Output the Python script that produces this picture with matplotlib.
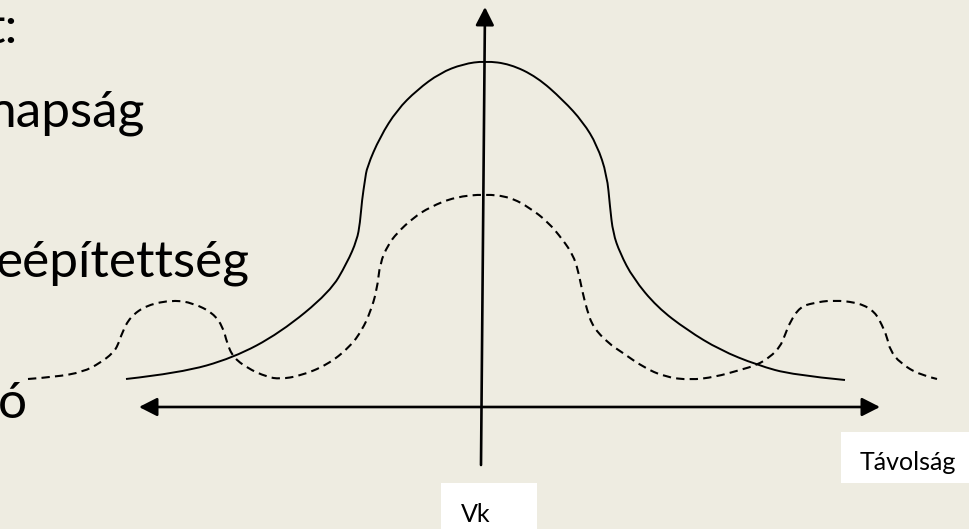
import matplotlib.pyplot as plt
from matplotlib.patches import Rectangle, PathPatch
from matplotlib.path import Path

# page colour and ink
bg = "#EEECE1"
ink = "black"

# solid curve (x, y) in page units, y grows downward
solid_x = [126, 180, 233, 280, 330, 347, 357, 360, 362, 365, 367, 380, 397, 417,
           440, 463, 485, 510, 537, 563, 583, 597, 607, 610, 613, 620, 633, 657,
           687, 720, 757, 793, 845]
solid_y = [379, 373, 358, 333, 292, 263, 240, 223, 200, 180, 167, 137, 110, 90,
           73, 64, 61, 64, 77, 100, 122, 145, 175, 207, 233, 253, 278, 307,
           330, 350, 365, 375, 380]

# dashed curve with side humps
dash_x = [28, 55, 83, 100, 113, 118, 122, 130, 147, 173, 193, 213, 223, 227,
          233, 247, 267, 280, 300, 327, 350, 362, 370, 377, 380, 388, 397, 413,
          430, 455, 485, 510, 530, 548, 563, 573, 578, 582, 587, 593, 608, 623,
          643, 665, 690, 715, 740, 757, 770, 780, 785, 790, 800, 813, 833, 860,
          875, 882, 887, 890, 900, 920, 937]
dash_y = [379, 377, 372, 363, 353, 345, 333, 317, 305, 300, 303, 313, 327, 343,
          357, 368, 377, 379, 376, 365, 347, 330, 313, 290, 263, 245, 233, 218,
          207, 197, 194, 197, 208, 222, 240, 255, 270, 290, 310, 327, 343, 353,
          367, 377, 380, 377, 370, 365, 357, 347, 335, 322, 307, 303, 300, 303,
          312, 325, 337, 350, 363, 375, 379]

# fragments of the slide text on the left
side_text = ["t:", "napság", "eépítettség", "ó"]
side_right = [18, 145, 250, 27]
side_base = [43, 127, 276, 418]

x_label = "Távolság"
y_label = "Vk"


def smooth_path(xs, ys):
    # quadratic segments through the midpoints of the point list
    pts = list(zip(xs, ys))
    verts = [pts[0]]
    codes = [Path.MOVETO]
    for i in range(1, len(pts) - 1):
        mid = ((pts[i][0] + pts[i + 1][0]) / 2, (pts[i][1] + pts[i + 1][1]) / 2)
        if i == len(pts) - 2:
            mid = pts[-1]
        verts += [pts[i], mid]
        codes += [Path.CURVE3, Path.CURVE3]
    return Path(verts, codes)


fig = plt.figure(figsize=(9.69, 5.29), dpi=100)
fig.patch.set_facecolor(bg)
ax = fig.add_axes([0, 0, 1, 1])
ax.set_facecolor(bg)
ax.set_xlim(0, 969)
ax.set_ylim(529, 0)
ax.axis("off")

ax.add_patch(PathPatch(smooth_path(solid_x, solid_y), facecolor="none",
                       edgecolor=ink, lw=1.4))
ax.add_patch(PathPatch(smooth_path(dash_x, dash_y), facecolor="none",
                       edgecolor=ink, lw=1.5, linestyle=(0, (4.0, 2.5))))

# axes with arrow heads
ax.annotate("", xy=(880, 407), xytext=(139, 407),
            arrowprops=dict(arrowstyle="<|-|>,head_length=0.55,head_width=0.28",
                            mutation_scale=20, lw=1.9, color=ink,
                            shrinkA=0, shrinkB=0))
ax.annotate("", xy=(485, 7), xytext=(481, 465),
            arrowprops=dict(arrowstyle="-|>,head_length=0.55,head_width=0.28",
                            mutation_scale=20, lw=1.9, color=ink,
                            shrinkA=0, shrinkB=0))

for txt, xr, yb in zip(side_text, side_right, side_base):
    ax.text(xr, yb, txt, ha="right", va="baseline", fontsize=37,
            family="Lato", color=ink)

# white label boxes
ax.add_patch(Rectangle((841, 432), 140, 51, facecolor="white", edgecolor="none"))
ax.text(860, 470, x_label, ha="left", va="baseline", fontsize=18,
        family="Lato", color=ink)
ax.add_patch(Rectangle((441, 483), 96, 60, facecolor="white", edgecolor="none"))
ax.text(461, 522, y_label, ha="left", va="baseline", fontsize=18,
        family="Lato", color=ink)

fig.savefig("out.png", dpi=100, facecolor=bg)
